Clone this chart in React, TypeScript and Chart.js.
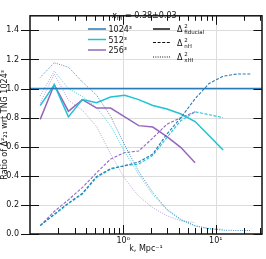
import React, { useEffect, useRef } from 'react';
import { Chart, registerables } from 'chart.js';

Chart.register(...registerables);

// k bins (Mpc^-1)
const K = [0.127, 0.18, 0.256, 0.363, 0.515, 0.731, 1.04, 1.47, 2.09, 2.97, 4.21, 5.98, 8.49, 12.0, 17.1, 24.3];
const X_MIN = 0.0985;
const X_MAX = 31.6;

// fiducial Δ² ratio (1024³ is the reference: a horizontal line at 1)
const FID_1024_LEVEL = 1;
const FID_512 = [0.883, 1.026, 0.805, 0.924, 0.903, 0.942, 0.953, 0.924, 0.883, 0.859, 0.825, 0.773, 0.675, 0.578];
const FID_256 = [0.788, 1.026, 0.844, 0.924, 0.866, 0.866, 0.805, 0.745, 0.735, 0.67, 0.594, 0.49];
// Δ²_nH ratio
const NH_1024 = [0.058, 0.136, 0.213, 0.28, 0.394, 0.45, 0.47, 0.495, 0.55, 0.688, 0.8, 0.93, 1.035, 1.085, 1.1, 1.1];
const NH_512 = [0.058, 0.132, 0.208, 0.275, 0.388, 0.445, 0.47, 0.48, 0.54, 0.664, 0.78, 0.84, 0.82, 0.8];
const NH_256 = [0.058, 0.155, 0.235, 0.32, 0.42, 0.515, 0.56, 0.57, 0.66, 0.755, 0.8, 0.84];
// Δ²_xHI ratio
const XHI_1024 = [1.076, 1.177, 1.147, 1.045, 0.955, 0.81, 0.61, 0.43, 0.285, 0.17, 0.1, 0.055, 0.036, 0.026, 0.024, 0.024];
const XHI_512 = [0.95, 1.12, 1.0, 0.945, 0.87, 0.745, 0.565, 0.41, 0.27, 0.165, 0.095, 0.058, 0.038, 0.032];
const XHI_256 = [0.9, 1.1, 0.92, 0.85, 0.74, 0.55, 0.38, 0.26, 0.18, 0.125, 0.09, 0.078];

const Y_TICKS = [0, 0.2, 0.4, 0.6, 0.8, 1.0, 1.2, 1.4];
const X_MAJOR = [1, 10];
const X_MINOR = [0.2, 0.3, 0.4, 0.5, 0.6, 0.7, 0.8, 0.9, 2, 3, 4, 5, 6, 7, 8, 9, 20, 30];
const X_LABELS: Record<number, string> = { 1: '10⁰', 10: '10¹' };

const RES_LABELS = ['1024³', '512³', '256³'];
const COLORS = ['#2a7ab8', '#1fc3d3', '#9467bd'];
const STYLE_SUBS = ['fiducial', 'nH', 'xHI'];
const LEGEND_TITLE_VALUE = ' = 0.38±0.03';

const FONT = '"DejaVu Sans", sans-serif';
const DASH = [3, 1.6];
const DOT = [1, 1.3];

function hexA(hex: string, a: number) {
  const r = parseInt(hex.slice(1, 3), 16), g = parseInt(hex.slice(3, 5), 16), b = parseInt(hex.slice(5, 7), 16);
  return `rgba(${r},${g},${b},${a})`;
}

function ds(points: { x: number; y: number }[], color: string, dash: number[], width: number, alpha = 1) {
  return {
    data: points,
    borderColor: alpha < 1 ? hexA(color, alpha) : color,
    borderWidth: width,
    borderDash: dash,
    pointRadius: 0,
    tension: 0,
    fill: false,
    borderCapStyle: 'butt' as const,
  };
}

const pts = (vals: number[]) => vals.map((v, i) => ({ x: K[i], y: v }));

const framePlugin = {
  id: 'frame',
  beforeDatasetsDraw(chart: any) {
    const { ctx, chartArea: a, scales } = chart;
    const x = scales.x, y = scales.y;
    ctx.save();
    ctx.strokeStyle = '#dcdcdc';
    ctx.lineWidth = 1;
    ctx.beginPath();
    Y_TICKS.forEach((v) => {
      if (v === 0) return;
      const py = Math.round(y.getPixelForValue(v)) + 0.5;
      ctx.moveTo(a.left, py); ctx.lineTo(a.right, py);
    });
    X_MAJOR.forEach((v) => {
      const px = Math.round(x.getPixelForValue(v)) + 0.5;
      ctx.moveTo(px, a.top); ctx.lineTo(px, a.bottom);
    });
    ctx.stroke();
    ctx.restore();
  },
  afterDraw(chart: any) {
    const { ctx, chartArea: a, scales } = chart;
    const x = scales.x, y = scales.y;
    ctx.save();
    ctx.strokeStyle = '#111';
    ctx.lineWidth = 1;
    ctx.beginPath();
    Y_TICKS.forEach((v) => {
      const py = Math.round(y.getPixelForValue(v)) + 0.5;
      ctx.moveTo(a.left - 9, py); ctx.lineTo(a.left + 9, py);
      ctx.moveTo(a.right - 8.5, py); ctx.lineTo(a.right, py);
    });
    X_MAJOR.forEach((v) => {
      const px = Math.round(x.getPixelForValue(v)) + 0.5;
      ctx.moveTo(px, a.bottom); ctx.lineTo(px, a.bottom - 9);
      ctx.moveTo(px, a.top); ctx.lineTo(px, a.top + 9);
    });
    X_MINOR.forEach((v) => {
      const px = Math.round(x.getPixelForValue(v)) + 0.5;
      if (px > a.right - 1) return;
      ctx.moveTo(px, a.bottom); ctx.lineTo(px, a.bottom - 6);
      ctx.moveTo(px, a.top); ctx.lineTo(px, a.top + 5);
    });
    ctx.stroke();
    // spines
    ctx.lineWidth = 1.5;
    ctx.strokeRect(a.left, a.top, a.right - a.left, a.bottom - a.top);

    // legend
    ctx.fillStyle = '#111';
    ctx.textBaseline = 'alphabetic';
    ctx.textAlign = 'left';
    let tx = 112;
    const tb = 17.5;
    ctx.font = `italic 8px ${FONT}`;
    ctx.fillText('x', tx, tb);
    tx += ctx.measureText('x').width;
    ctx.font = `italic 5.5px ${FONT}`;
    ctx.fillText('HI', tx, tb + 2);
    tx += ctx.measureText('HI').width;
    ctx.font = `8px ${FONT}`;
    ctx.fillText(LEGEND_TITLE_VALUE, tx, tb);

    const rowY = [29, 39.5, 50];
    RES_LABELS.forEach((lab, i) => {
      ctx.strokeStyle = COLORS[i];
      ctx.lineWidth = 1.5;
      ctx.setLineDash([]);
      ctx.beginPath();
      ctx.moveTo(88, rowY[i]); ctx.lineTo(106, rowY[i]);
      ctx.stroke();
      ctx.fillStyle = '#111';
      ctx.font = `8px ${FONT}`;
      ctx.fillText(lab, 108.5, rowY[i] + 3);
    });
    const sY = [29, 42.5, 57];
    const dashes = [[], DASH, DOT];
    const widths = [1.5, 1, 1];
    STYLE_SUBS.forEach((sub, i) => {
      ctx.strokeStyle = '#111';
      ctx.lineWidth = widths[i];
      ctx.setLineDash(dashes[i]);
      ctx.beginPath();
      ctx.moveTo(153, sY[i]); ctx.lineTo(170, sY[i]);
      ctx.stroke();
      ctx.setLineDash([]);
      ctx.fillStyle = '#111';
      ctx.font = `8px ${FONT}`;
      ctx.fillText('Δ', 177, sY[i] + 3);
      ctx.font = `5.5px ${FONT}`;
      ctx.fillText('2', 184.2, sY[i] - 1);
      ctx.fillText(sub, 184.2, sY[i] + 5);
    });
    ctx.restore();
  },
};

export default function App() {
  const ref = useRef<HTMLCanvasElement | null>(null);
  useEffect(() => {
    if (!ref.current) return;
    const datasets = [
      ds([{ x: X_MIN, y: FID_1024_LEVEL }, { x: X_MAX, y: FID_1024_LEVEL }], COLORS[0], [], 1.6),
      ds(pts(NH_1024), COLORS[0], DASH, 1.1),
      ds(pts(XHI_1024), COLORS[0], DOT, 1, 0.85),
      ds(pts(FID_512), COLORS[1], [], 1.5),
      ds(pts(NH_512), COLORS[1], DASH, 1.1),
      ds(pts(XHI_512), COLORS[1], DOT, 1, 0.75),
      ds(pts(FID_256), COLORS[2], [], 1.5),
      ds(pts(NH_256), COLORS[2], DASH, 1.1),
      ds(pts(XHI_256), COLORS[2], DOT, 1, 0.6),
    ];
    const chart = new Chart(ref.current, {
      type: 'line',
      data: { datasets },
      plugins: [framePlugin],
      options: {
        animation: false,
        responsive: false,
        devicePixelRatio: 1,
        layout: { padding: { top: 3, right: 4, left: 0, bottom: 0 } },
        plugins: { legend: { display: false }, tooltip: { enabled: false } },
        scales: {
          x: {
            type: 'logarithmic',
            min: X_MIN,
            max: X_MAX,
            afterFit: (s: any) => { s.height = 25; },
            afterBuildTicks: (s: any) => { s.ticks = X_MAJOR.map((v) => ({ value: v })); },
            grid: { display: false, drawTicks: false },
            border: { display: false },
            ticks: {
              autoSkip: false,
              maxRotation: 0,
              padding: 2,
              color: '#111',
              font: { family: FONT, size: 8 },
              callback: (v: any) => X_LABELS[Number(v)] ?? '',
            },
            title: {
              display: true,
              text: 'k, Mpc⁻¹',
              color: '#111',
              font: { family: FONT, size: 8 },
              padding: { top: 0, bottom: 5 },
            },
          },
          y: {
            type: 'linear',
            min: 0,
            max: 1.5,
            afterFit: (s: any) => { s.width = 30; },
            afterBuildTicks: (s: any) => { s.ticks = Y_TICKS.map((v) => ({ value: v })); },
            grid: { display: false, drawTicks: false },
            border: { display: false },
            ticks: {
              padding: 11,
              color: '#111',
              font: { family: FONT, size: 8 },
              callback: (v: any) => Number(v).toFixed(1),
            },
            title: {
              display: true,
              text: 'Ratio of Δ²₂₁ wrt TNG 1024³',
              color: '#111',
              font: { family: FONT, size: 8 },
              padding: { top: 0, bottom: 0 },
            },
          },
        },
      },
    } as any);
    return () => chart.destroy();
  }, []);
  return (
    <div style={{ position: 'absolute', left: 0, top: 0, width: 266, height: 259, background: '#fff' }}>
      <canvas ref={ref} width={266} height={259} style={{ display: 'block' }} />
    </div>
  );
}
